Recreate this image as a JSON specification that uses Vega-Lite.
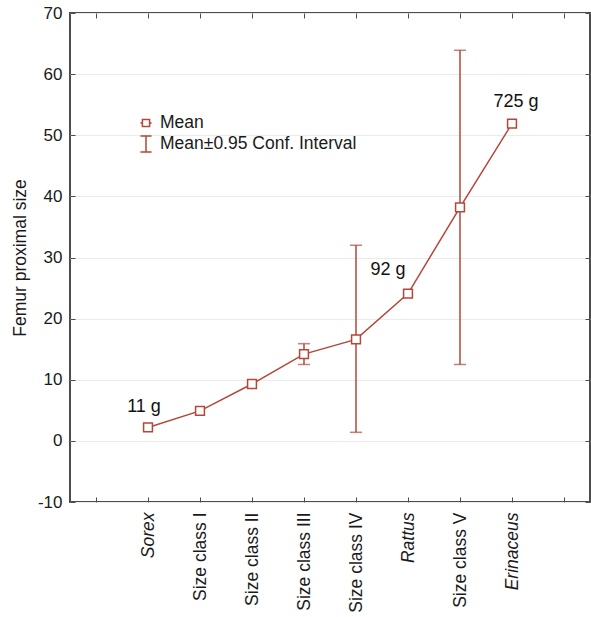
{
  "$schema": "https://vega.github.io/schema/vega-lite/v6.json",
  "width": 520,
  "height": 489,
  "autosize": {"type": "none"},
  "padding": {"left": 70, "top": 13, "right": 1, "bottom": 115},
  "background": "white",
  "config": {
    "view": {"stroke": "#4d4d4d", "strokeWidth": 2},
    "font": "Liberation Sans",
    "axis": {"labelFont": "Liberation Sans", "titleFont": "Liberation Sans"}
  },
  "resolve": {"axis": {"x": "independent", "y": "independent"}},
  "datasets": {
    "means": [
      {"group": "Sorex", "mean": 2.2},
      {"group": "Size class I", "mean": 4.9},
      {"group": "Size class II", "mean": 9.3},
      {"group": "Size class III", "mean": 14.2},
      {"group": "Size class IV", "mean": 16.6},
      {"group": "Rattus", "mean": 24.1},
      {"group": "Size class V", "mean": 38.2},
      {"group": "Erinaceus", "mean": 51.9}
    ],
    "intervals": [
      {"group": "Size class III", "lo": 12.5, "hi": 15.9},
      {"group": "Size class IV", "lo": 1.4, "hi": 32.0},
      {"group": "Size class V", "lo": 12.5, "hi": 63.9}
    ],
    "notes": [
      {"group": "Sorex", "pos": 5.6, "text": "11 g"},
      {"group": "Rattus", "pos": 28.0, "text": "92 g"},
      {"group": "Erinaceus", "pos": 55.4, "text": "725 g"}
    ]
  },
  "layer": [
    {
      "data": {"name": "means"},
      "mark": {"type": "line", "color": "#b3473a", "strokeWidth": 1.5},
      "encoding": {
        "x": {
          "field": "group", "type": "nominal",
          "scale": {"type": "point", "padding": 0.5,
            "domain": ["", "Sorex", "Size class I", "Size class II", "Size class III", "Size class IV", "Rattus", "Size class V", "Erinaceus", " "]},
          "sort": null,
          "axis": {
            "orient": "bottom", "title": null, "domain": false,
            "tickSize": -5, "tickColor": "#4d4d4d", "tickWidth": 1,
            "labelAngle": -90, "labelAlign": "right", "labelBaseline": "middle",
            "labelPadding": 15, "labelFontSize": 17.5, "labelColor": "#1a1a1a", "labelLimit": 200,
            "labelFontStyle": {"condition": {"test": "datum.value === 'Sorex' || datum.value === 'Rattus' || datum.value === 'Erinaceus'", "value": "italic"}, "value": "normal"}
          }
        },
        "y": {
          "field": "mean", "type": "quantitative",
          "scale": {"domain": [-10, 70], "nice": false, "zero": false},
          "axis": {
            "orient": "left", "title": "Femur proximal size", "titleFontSize": 17.5,
            "titleFontWeight": "normal", "titleColor": "#1a1a1a", "titlePadding": 8,
            "values": [-10, 0, 10, 20, 30, 40, 50, 60, 70],
            "labelExpr": "toString(datum.value)",
            "domain": false, "tickSize": -5, "tickColor": "#4d4d4d",
            "labelPadding": 13, "labelFontSize": 17, "labelColor": "#1a1a1a",
            "grid": true, "gridColor": "#ebebeb", "gridWidth": 1
          }
        }
      }
    },
    {
      "data": {"name": "intervals"},
      "mark": {"type": "rule", "strokeWidth": 1.5, "color": "#b3473a"},
      "encoding": {
        "x": {"field": "group", "type": "nominal", "sort": null, "axis": null},
        "y": {"field": "lo", "type": "quantitative", "axis": null},
        "y2": {"field": "hi"}
      }
    },
    {
      "data": {"name": "intervals"},
      "mark": {"type": "tick", "size": 12, "thickness": 1.5, "color": "#b3473a"},
      "encoding": {
        "x": {"field": "group", "type": "nominal", "sort": null, "axis": null},
        "y": {"field": "lo", "type": "quantitative", "axis": null}
      }
    },
    {
      "data": {"name": "intervals"},
      "mark": {"type": "tick", "size": 12, "thickness": 1.5, "color": "#b3473a"},
      "encoding": {
        "x": {"field": "group", "type": "nominal", "sort": null, "axis": null},
        "y": {"field": "hi", "type": "quantitative", "axis": null}
      }
    },
    {
      "data": {"name": "means"},
      "mark": {"type": "point", "shape": "square", "size": 78, "filled": false, "fill": "white", "fillOpacity": 1, "strokeWidth": 1.5, "opacity": 1},
      "encoding": {
        "x": {"field": "group", "type": "nominal", "sort": null,
          "axis": {"orient": "top", "title": null, "labels": false, "domain": false, "tickSize": -5, "tickColor": "#4d4d4d"}},
        "y": {"field": "mean", "type": "quantitative",
          "axis": {"orient": "right", "title": null, "labels": false, "domain": false, "grid": false, "tickSize": -5, "tickColor": "#4d4d4d",
            "values": [-10, 0, 10, 20, 30, 40, 50, 60, 70]}},
        "color": {
          "datum": "Mean",
          "scale": {"domain": ["Mean", "Mean±0.95 Conf. Interval"], "range": ["#b3473a", "#b3473a"]},
          "legend": {
            "orient": "none", "legendX": 67, "legendY": 101, "title": null,
            "padding": 0,
            "labelFontSize": 17.5, "labelColor": "#1a1a1a", "labelOffset": 5, "labelFont": "Liberation Sans", "labelLimit": 400,
            "symbolSize": 256, "symbolStrokeWidth": 1.5, "rowPadding": 1,
            "symbolFillColor": "white", "symbolStrokeColor": "#b3473a", "symbolOpacity": 1,
            "symbolType": {"expr": "datum.value === 'Mean' ? 'M-0.7,0H-0.45M-0.45,-0.45H0.45V0.45H-0.45ZM0.45,0H0.7' : 'M-0.7,-1H0.7M0,-1V1M-0.7,1H0.7'"}
          }
        }
      }
    },
    {
      "data": {"name": "notes"},
      "transform": [{"filter": "datum.group === 'Sorex'"}],
      "mark": {"type": "text", "fontSize": 18, "color": "#111111", "baseline": "middle", "align": "center", "dx": -4},
      "encoding": {
        "x": {"field": "group", "type": "nominal", "sort": null, "axis": null},
        "y": {"field": "pos", "type": "quantitative", "axis": null},
        "text": {"field": "text"}
      }
    },
    {
      "data": {"name": "notes"},
      "transform": [{"filter": "datum.group === 'Rattus'"}],
      "mark": {"type": "text", "fontSize": 18, "color": "#111111", "baseline": "middle", "align": "center", "dx": -20},
      "encoding": {
        "x": {"field": "group", "type": "nominal", "sort": null, "axis": null},
        "y": {"field": "pos", "type": "quantitative", "axis": null},
        "text": {"field": "text"}
      }
    },
    {
      "data": {"name": "notes"},
      "transform": [{"filter": "datum.group === 'Erinaceus'"}],
      "mark": {"type": "text", "fontSize": 18, "color": "#111111", "baseline": "middle", "align": "center", "dx": 4},
      "encoding": {
        "x": {"field": "group", "type": "nominal", "sort": null, "axis": null},
        "y": {"field": "pos", "type": "quantitative", "axis": null},
        "text": {"field": "text"}
      }
    }
  ]
}
